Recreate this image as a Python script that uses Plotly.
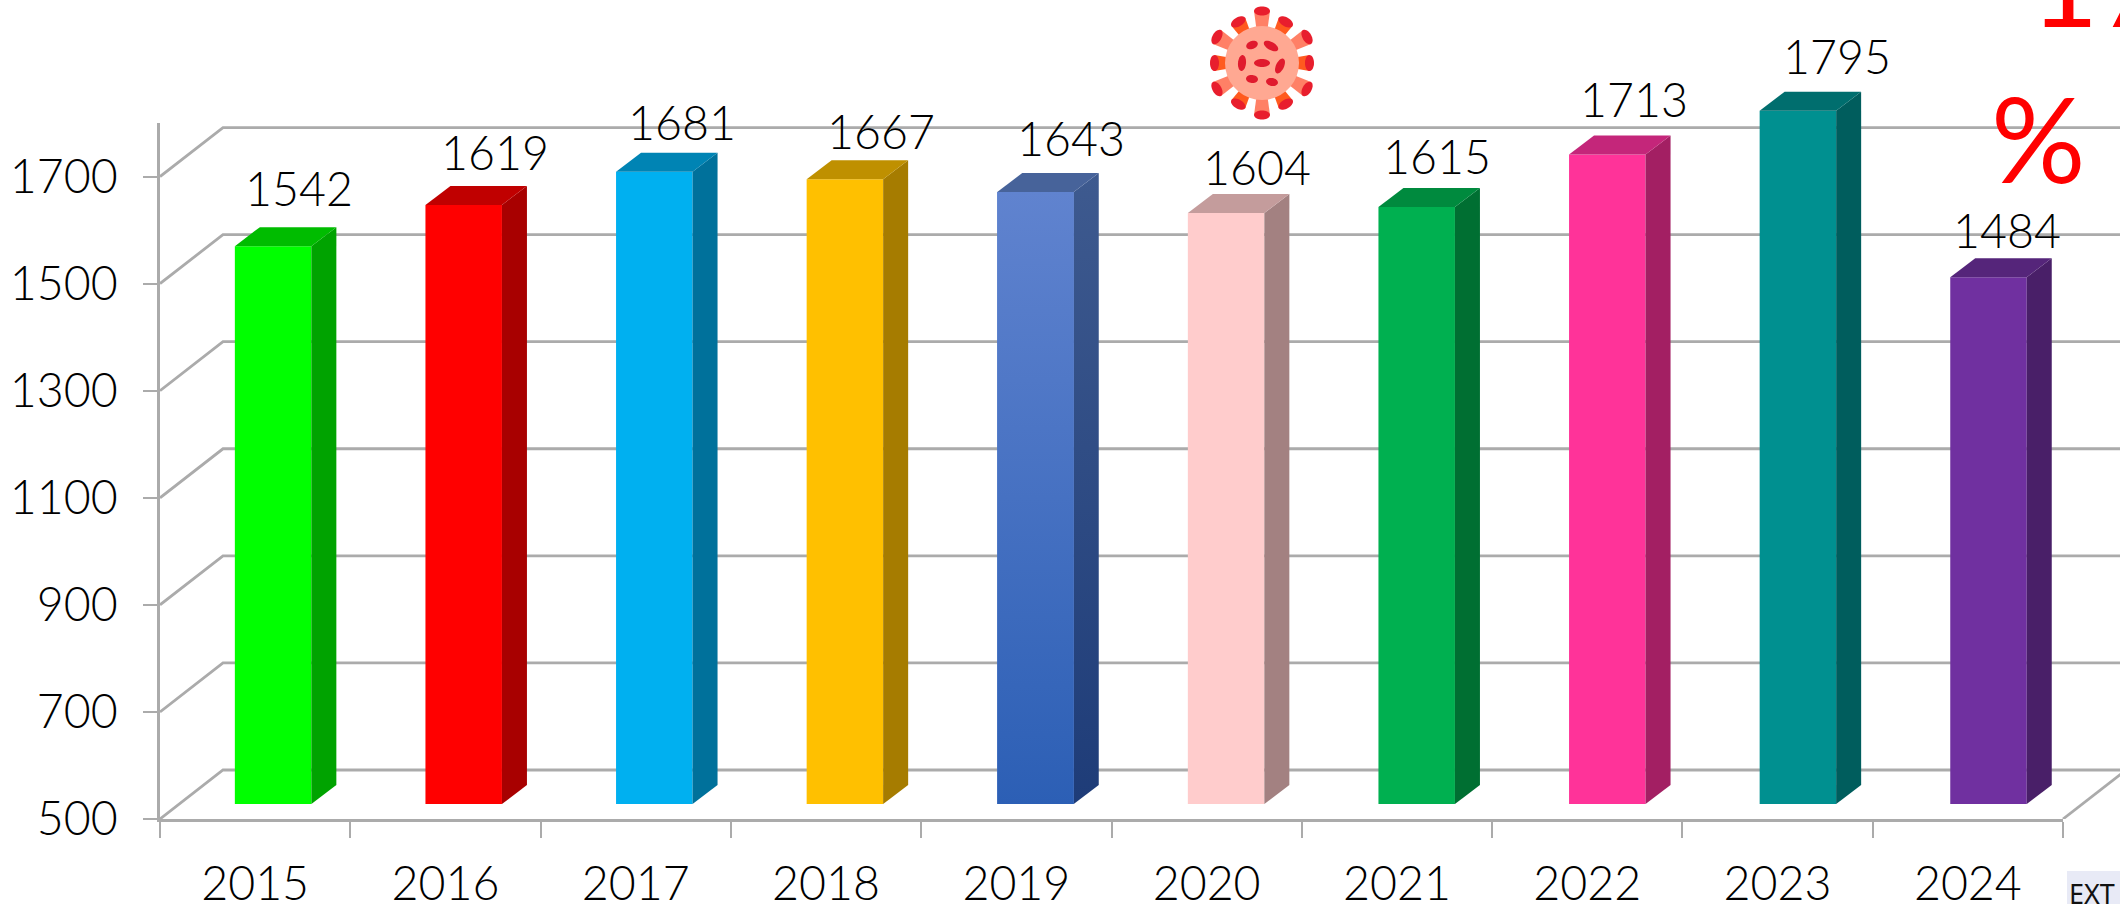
import math
import plotly.graph_objects as go

W, H = 2120, 904

# ---- data ----
years = [2015, 2016, 2017, 2018, 2019, 2020, 2021, 2022, 2023, 2024]
values = [1542, 1619, 1681, 1667, 1643, 1604, 1615, 1713, 1795, 1484]
y_ticks = [500, 700, 900, 1100, 1300, 1500, 1700]
year_labels = [str(y) for y in years]

# ---- styles ----
front_colors = ["#00FF00", "#FF0000", "#00B0F0", "#FFC000", "#4A74C8", "#FFCCCC", "#00B050", "#FF3399", "#009090", "#7030A0"]
side_colors = ["#00A300", "#A80000", "#00719B", "#A67C00", "#2E4C8C", "#A38181", "#006F32", "#A31F63", "#005D5D", "#491F68"]
top_colors = ["#00BC00", "#C00000", "#0084B4", "#BF9000", "#47639A", "#C49C9C", "#008A3E", "#C4267A", "#006E6E", "#55257A"]
label_dx_px = [26, 31, 28, 36, 35, 31, 20, 27, 39, 18]
label_dy_px = [58.5, 53, 50, 48.5, 54.5, 45.5, 51.5, 56, 55, 47.5]

FONT = "Lato Light, Lato, sans-serif"
GRID = "#ABABAB"
TXT = "#000000"
LABEL_SIZE = 46.5

# ---- pixel geometry of the pseudo-3D frame ----
X0, X1 = 160.0, 2063.0      # front plane of the x axis
Y_500, Y_TOP = 819.0, 123.0  # front plane of the y axis
px_cat = (X1 - X0) / 10
px_val = (Y_500 - Y_TOP) / 1300
WALL_DX, WALL_DY = 63.0, 49.0  # px offset to the back wall
BAR_X0, BAR_STEP = 177.8, 190.6  # bar front plane: left edge and px per year
BAR_DY = 15.0
BOX_DX, BOX_DY = 25.0, 19.0    # px depth of a bar
BAR_W = 76.5 / BAR_STEP


def px_x(p):
    return p / W


def px_y(p):
    return 1 - p / H


def year_range(x_left, step):
    return [years[0] - 0.5, years[0] - 0.5 + (W - x_left) / step]


def val_range(y_base):
    return [500, 500 + y_base / px_val]


fig = go.Figure()

# invisible trace that fills the category axis
fig.add_trace(go.Scatter(x=year_labels, y=values, mode="markers", marker=dict(opacity=0, size=1),
                         xaxis="x", yaxis="y", showlegend=False, hoverinfo="skip"))

# back wall and floor lines
dxw, dyw = WALL_DX / px_cat, WALL_DY / px_val
left, right = years[0] - 0.5, years[-1] + 0.5
for t in y_ticks:
    fig.add_trace(go.Scatter(x=[left, left + dxw, right + dxw], y=[t, t + dyw, t + dyw], mode="lines",
                             line=dict(color=GRID, width=2.8), xaxis="x2", yaxis="y2",
                             showlegend=False, hoverinfo="skip"))
fig.add_trace(go.Scatter(x=[right, right + dxw], y=[500, 500 + dyw], mode="lines",
                         line=dict(color=GRID, width=2.8), xaxis="x2", yaxis="y2",
                         showlegend=False, hoverinfo="skip"))

# bar fronts
fig.add_trace(go.Bar(x=years, y=values, width=BAR_W, marker=dict(color=front_colors, line=dict(width=0)),
                     xaxis="x3", yaxis="y3", showlegend=False,
                     hovertemplate="%{x}: %{y}<extra></extra>"))

# bar depth faces
dxb, dyb = BOX_DX / BAR_STEP, BOX_DY / px_val
for yr, v, sc, tc in zip(years, values, side_colors, top_colors):
    xl, xr = yr - BAR_W / 2, yr + BAR_W / 2
    side = dict(fillcolor=sc)
    if yr == 2019:
        side = dict(fillgradient=dict(type="vertical", colorscale=[[0, "#1E3C78"], [1, "#3E5A8F"]]))
    fig.add_trace(go.Scatter(x=[xr, xr + dxb, xr + dxb, xr, xr], y=[500, 500 + dyb, v + dyb, v, 500],
                             mode="lines", line=dict(width=0), fill="toself", xaxis="x3", yaxis="y3",
                             showlegend=False, hoverinfo="skip", **side))
    fig.add_trace(go.Scatter(x=[xl, xr, xr + dxb, xl + dxb, xl], y=[v, v, v + dyb, v + dyb, v],
                             mode="lines", line=dict(width=0), fill="toself", fillcolor=tc,
                             xaxis="x3", yaxis="y3", showlegend=False, hoverinfo="skip"))
    if yr == 2019:
        fig.add_trace(go.Scatter(x=[xl, xr, xr, xl, xl], y=[500, 500, v, v, 500], mode="lines",
                                 line=dict(width=0), fill="toself",
                                 fillgradient=dict(type="vertical", colorscale=[[0, "#2C5FB5"], [1, "#6083CF"]]),
                                 xaxis="x3", yaxis="y3", showlegend=False, hoverinfo="skip"))

# value labels
annotations = [
    dict(x=yr, y=v, xref="x3", yref="y3", text=str(v), showarrow=False, xshift=dx, yshift=dy,
         xanchor="center", yanchor="middle", font=dict(family=FONT, size=LABEL_SIZE, color=TXT))
    for yr, v, dx, dy in zip(years, values, label_dx_px, label_dy_px)
]
# hand-placed red callout, cropped by the page
annotations += [
    dict(x=px_x(2028), y=px_y(-18), xref="paper", yref="paper", text="17", showarrow=False,
         xanchor="left", yanchor="middle", font=dict(family="Lato, sans-serif", size=118, color="#FF0000")),
    dict(x=px_x(2038), y=px_y(138), xref="paper", yref="paper", text="%", showarrow=False,
         xanchor="center", yanchor="middle", font=dict(family="Lato, sans-serif", size=118, color="#FF0000")),
    dict(x=px_x(2092), y=px_y(893), xref="paper", yref="paper", text="EXT", showarrow=False,
         xanchor="center", yanchor="middle", font=dict(family="Noto Sans, sans-serif", size=27, color="#111111")),
]

# ---- virus icon, drawn as decoration ----
CX, CY = 1262.0, 63.0


def poly_path(pts):
    return "M" + "L".join(f"{px_x(a):.5f},{px_y(b):.5f}" for a, b in pts) + "Z"


def ellipse(cx, cy, rx, ry, ang):
    c, s = math.cos(math.radians(ang)), math.sin(math.radians(ang))
    pts = []
    for k in range(36):
        t = 2 * math.pi * k / 36
        a, b = rx * math.cos(t), ry * math.sin(t)
        pts.append((cx + a * c - b * s, cy + a * s + b * c))
    return pts


def paper_shape(pts, color):
    return dict(type="path", xref="paper", yref="paper", path=poly_path(pts),
                fillcolor=color, line=dict(width=0), layer="above")


shapes = []
shapes.append(dict(type="rect", xref="paper", yref="paper", x0=px_x(2067), x1=1, y0=0, y1=px_y(871),
                   fillcolor="#E8EAF6", line=dict(width=0), layer="below"))
for i in range(12):
    ang = math.radians(i * 30)
    ux, uy = math.cos(ang), math.sin(ang)
    nx, ny = -uy, ux
    long_spike = i % 2 == 1
    r_end = 52.0 if long_spike else 47.5
    w0, w1 = (5.0, 8.0)
    stem = "#FF8066" if long_spike else "#FF5A1F"
    shapes.append(paper_shape([
        (CX + ux * 30 + nx * w0, CY + uy * 30 + ny * w0),
        (CX + ux * r_end + nx * w1, CY + uy * r_end + ny * w1),
        (CX + ux * r_end - nx * w1, CY + uy * r_end - ny * w1),
        (CX + ux * 30 - nx * w0, CY + uy * 30 - ny * w0)], stem))
    shapes.append(paper_shape(ellipse(CX + ux * r_end, CY + uy * r_end, 4.5, 8.0, i * 30), "#E81E2D"))
shapes.append(paper_shape(ellipse(CX, CY, 37, 37, 0), "#FFA892"))
spots = [(102, 45, 6, 4, -20), (121, 46, 8, 4, 30), (92, 63, 4, 8, 5), (112, 63, 8, 4, 0),
         (130, 66, 4, 8, 25), (102, 79, 6, 4, 5), (122, 82, 6, 4, 10)]
for sx, sy, rx, ry, a in spots:
    shapes.append(paper_shape(ellipse(1150 + sx, sy, rx, ry, a), "#E01B2E"))

axis_font = dict(family=FONT, size=LABEL_SIZE, color=TXT)
fig.update_layout(
    width=W, height=H, margin=dict(l=0, r=0, t=0, b=0), autosize=False,
    paper_bgcolor="white", plot_bgcolor="rgba(0,0,0,0)", showlegend=False, barmode="overlay",
    annotations=annotations, shapes=shapes,
    xaxis=dict(domain=[px_x(X0), px_x(X1)], type="category", categoryorder="array", categoryarray=year_labels,
               range=[-0.5, 9.5], tickson="boundaries", ticks="outside", ticklen=16, tickwidth=2, tickcolor=GRID,
               showline=True, linecolor=GRID, linewidth=3, showgrid=False, zeroline=False, tickfont=axis_font,
               ticklabelstandoff=22, anchor="y", automargin=False),
    yaxis=dict(domain=[px_y(Y_500), px_y(Y_TOP)], range=[500, 1800], tickmode="array", tickvals=y_ticks,
               ticks="outside", ticklen=14, tickwidth=2, tickcolor=GRID, showline=True, linecolor=GRID,
               linewidth=3, showgrid=False, zeroline=False, tickfont=axis_font, ticklabelstandoff=16, anchor="x",
               automargin=False),
    xaxis2=dict(domain=[px_x(X0), 1], range=year_range(X0, px_cat), visible=False, anchor="y2", automargin=False),
    yaxis2=dict(domain=[px_y(Y_500), 1], range=val_range(Y_500), visible=False, anchor="x2", automargin=False),
    xaxis3=dict(domain=[px_x(BAR_X0), 1], range=year_range(BAR_X0, BAR_STEP), visible=False, anchor="y3", automargin=False),
    yaxis3=dict(domain=[px_y(Y_500 - BAR_DY), 1], range=val_range(Y_500 - BAR_DY), visible=False, anchor="x3", automargin=False),
)

fig.write_html("out.html", config={"displayModeBar": False},
               post_script="document.body.style.margin='0';document.body.style.overflow='hidden';")
